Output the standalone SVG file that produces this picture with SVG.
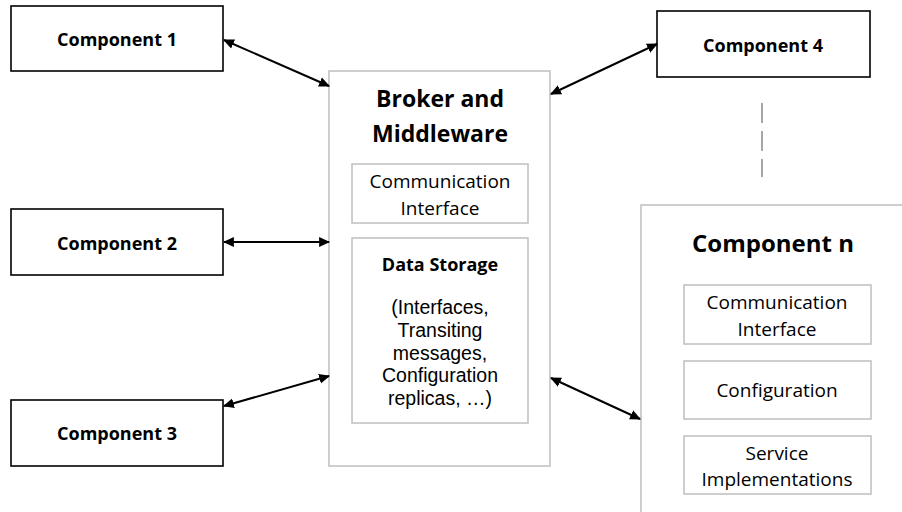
<svg xmlns="http://www.w3.org/2000/svg" width="902" height="512" viewBox="0 0 902 512">
<defs>
<marker id="ah" viewBox="0 0 10 10" refX="9" refY="5" markerWidth="11" markerHeight="11" markerUnits="userSpaceOnUse" orient="auto-start-reverse">
<path d="M0,0.5 L10,5 L0,9.5 Z" fill="#000"/>
</marker>
</defs>
<style>
.comp{fill:#fff;stroke:#000;stroke-width:1.6}
.gbox{fill:#fff;stroke:#bfbfbf;stroke-width:1.5}
.ibox{fill:#fff;stroke:#bfbfbf;stroke-width:1.5}
text{font-family:"Open Sans","Liberation Sans",sans-serif;fill:#000;text-anchor:middle}
.b18{font-size:18px;font-weight:bold}
.b23{font-size:23px;font-weight:bold}
.b25{font-size:24px;font-weight:bold}
.r19{font-size:19px}
.list{font-family:"Liberation Sans","Open Sans",sans-serif;font-size:19.5px}
.conn{stroke:#000;stroke-width:2;fill:none;marker-start:url(#ah);marker-end:url(#ah)}
.dash{stroke:#a6a6a6;stroke-width:2;stroke-dasharray:20 8;fill:none}
</style>
<rect width="902" height="512" fill="#fff"/>
<g id="component1">
<rect class="comp" x="11" y="6" width="212" height="65"/>
<text class="b18" x="117" y="46">Component 1</text>
</g>
<g id="component2">
<rect class="comp" x="11" y="209" width="212" height="66"/>
<text class="b18" x="117" y="250">Component 2</text>
</g>
<g id="component3">
<rect class="comp" x="11" y="400" width="212" height="66"/>
<text class="b18" x="117" y="440">Component 3</text>
</g>
<g id="component4">
<rect class="comp" x="657" y="11" width="213" height="66"/>
<text class="b18" x="763" y="52">Component 4</text>
</g>
<g id="broker">
<rect class="gbox" x="329" y="71" width="221" height="395"/>
<text class="b23" x="440" y="107">Broker and</text>
<text class="b23" x="440" y="142">Middleware</text>
<rect class="ibox" x="352" y="164" width="176" height="59"/>
<text class="r19" x="440" y="188">Communication</text>
<text class="r19" x="440" y="215">Interface</text>
<rect class="ibox" x="352" y="238" width="176" height="185"/>
<text class="b18" x="440" y="271">Data Storage</text>
<text class="list" x="440" y="314">(Interfaces,</text>
<text class="list" x="440" y="336.75">Transiting</text>
<text class="list" x="440" y="359.5">messages,</text>
<text class="list" x="440" y="382.25">Configuration</text>
<text class="list" x="440" y="405">replicas, …)</text>
</g>
<g id="componentN">
<path class="gbox" d="M641,513 L641,205 L903,205"/>
<text class="b25" x="773" y="252">Component n</text>
<rect class="ibox" x="684" y="285" width="187" height="59"/>
<text class="r19" x="777" y="309">Communication</text>
<text class="r19" x="777" y="336">Interface</text>
<rect class="ibox" x="684" y="361" width="187" height="58"/>
<text class="r19" x="777" y="397">Configuration</text>
<rect class="ibox" x="684" y="436" width="187" height="58"/>
<text class="r19" x="777" y="460">Service</text>
<text class="r19" x="777" y="486">Implementations</text>
</g>
<g id="connectors">
<line class="conn" x1="224" y1="40" x2="329" y2="86"/>
<line class="conn" x1="224" y1="242" x2="329" y2="242"/>
<line class="conn" x1="224" y1="406" x2="329" y2="376"/>
<line class="conn" x1="551" y1="94" x2="657" y2="44"/>
<line class="conn" x1="551" y1="378" x2="640" y2="419"/>
<line class="dash" x1="762" y1="103" x2="762" y2="177"/>
</g>
</svg>
